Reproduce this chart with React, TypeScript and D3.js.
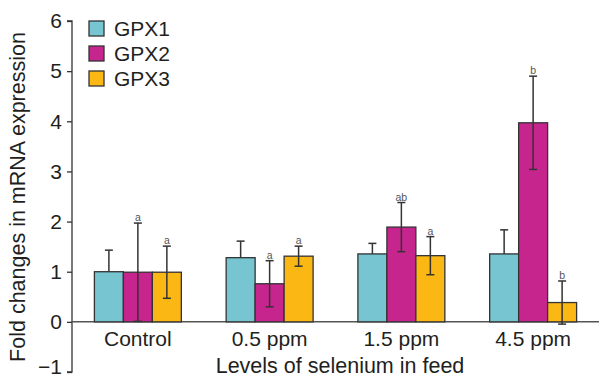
import { useRef, useEffect } from 'react';
import * as d3 from 'd3';

const groups = ['Control', '0.5 ppm', '1.5 ppm', '4.5 ppm'];
const seriesNames = ['GPX1', 'GPX2', 'GPX3'];
const seriesColors = ['#77c5d0', '#c7258e', '#fbb815'];
const gpx1 = [1.0, 1.28, 1.355, 1.355];
const gpx1Err = [0.43, 0.33, 0.21, 0.48];
const gpx2 = [0.99, 0.76, 1.89, 3.97];
const gpx2Err = [0.98, 0.46, 0.49, 0.93];
const gpx3 = [0.99, 1.31, 1.32, 0.385];
const gpx3Err = [0.52, 0.2, 0.38, 0.43];
const gpx2Letters = ['a', 'a', 'ab', 'b'];
const gpx3Letters = ['a', 'a', 'a', 'b'];
const yTicks = [-1, 0, 1, 2, 3, 4, 5, 6];

const W = 599;
const H = 378;

export default function App() {
  const svgRef = useRef<SVGSVGElement | null>(null);

  useEffect(() => {
    document.body.style.margin = '0';
    if (!svgRef.current) return;
    const svg = d3.select(svgRef.current);
    svg.selectAll('*').remove();

    const font = 'Liberation Sans, Arial, sans-serif';
    const ink = '#231f20';

    const x = d3.scaleBand<string>().domain(groups).range([72, 599]).paddingInner(0.34).paddingOuter(0.17);
    const xs = d3.scaleBand<string>().domain(seriesNames).range([0, x.bandwidth()]);
    const y = d3.scaleLinear().domain([-1, 6]).range([372, 21]);

    const values = [gpx1, gpx2, gpx3];
    const errs = [gpx1Err, gpx2Err, gpx3Err];
    const letters = [null, gpx2Letters, gpx3Letters];

    // y axis
    const yAxis = d3.axisLeft(y).tickValues(yTicks).tickSize(5).tickPadding(5)
      .tickFormat(d => (+d < 0 ? '\u2212' + Math.abs(+d) : String(d)));
    const gy = svg.append('g').attr('transform', 'translate(72,0)').call(yAxis);
    gy.select('.domain').attr('stroke', '#333').attr('stroke-width', 1.3)
      .attr('d', `M-5,${y(6)}H0V${y(-1)}H-5`);
    gy.selectAll('.tick line').attr('stroke', '#333').attr('stroke-width', 1.3);
    gy.selectAll('.tick text').attr('font-family', font).attr('font-size', 21).attr('fill', ink)
      .attr('dy', (d: any) => (+d < 0 ? '0.05em' : '0.32em'));

    // zero line
    svg.append('line').attr('x1', 72).attr('x2', W).attr('y1', y(0)).attr('y2', y(0))
      .attr('stroke', '#555').attr('stroke-width', 1.5);

    // bars
    seriesNames.forEach((s, si) => {
      svg.append('g').selectAll('rect').data(groups).join('rect')
        .attr('x', g => x(g)! + xs(s)!)
        .attr('width', xs.bandwidth())
        .attr('y', (_, i) => y(values[si][i]))
        .attr('height', (_, i) => y(0) - y(values[si][i]))
        .attr('fill', seriesColors[si])
        .attr('stroke', '#333')
        .attr('stroke-width', 1.3);
    });

    // error bars
    seriesNames.forEach((s, si) => {
      groups.forEach((g, i) => {
        const cx = x(g)! + xs(s)! + xs.bandwidth() / 2;
        const v = values[si][i];
        const e = errs[si][i];
        const top = y(v + e);
        const bot = si === 0 ? y(v) : y(v - e);
        const eg = svg.append('g').attr('stroke', '#333').attr('stroke-width', 1.5);
        eg.append('line').attr('x1', cx).attr('x2', cx).attr('y1', top).attr('y2', bot);
        eg.append('line').attr('x1', cx - 4).attr('x2', cx + 4).attr('y1', top).attr('y2', top);
        if (si !== 0) eg.append('line').attr('x1', cx - 4).attr('x2', cx + 4).attr('y1', bot).attr('y2', bot);
        const lt = letters[si];
        if (lt) {
          svg.append('text').attr('x', cx).attr('y', top - 2).attr('text-anchor', 'middle')
            .attr('font-family', font).attr('font-size', 10.5).attr('fill', '#555').text(lt[i]);
        }
      });
    });

    // x labels
    svg.append('g').selectAll('text').data(groups).join('text')
      .attr('x', g => x(g)! + x.bandwidth() / 2)
      .attr('y', 346)
      .attr('text-anchor', 'middle')
      .attr('font-family', font).attr('font-size', 21).attr('fill', ink)
      .text(g => g);

    svg.append('text').attr('x', 340).attr('y', 373).attr('text-anchor', 'middle')
      .attr('font-family', font).attr('font-size', 21.5).attr('fill', ink)
      .text('Levels of selenium in feed');

    svg.append('text').attr('transform', `translate(25,197) rotate(-90)`)
      .attr('text-anchor', 'middle')
      .attr('font-family', font).attr('font-size', 21.5).attr('fill', ink)
      .text('Fold changes in mRNA expression');

    // legend
    const lg = svg.append('g').attr('transform', 'translate(89,21)');
    seriesNames.forEach((s, i) => {
      lg.append('rect').attr('x', 0).attr('y', i * 25).attr('width', 15).attr('height', 15)
        .attr('fill', seriesColors[i]).attr('stroke', '#333').attr('stroke-width', 1.3);
      lg.append('text').attr('x', 25).attr('y', i * 25 + 15)
        .attr('font-family', font).attr('font-size', 21).attr('fill', ink).text(s);
    });
  }, []);

  return <svg ref={svgRef} width={W} height={H} style={{ display: 'block', background: '#fff' }} />;
}
